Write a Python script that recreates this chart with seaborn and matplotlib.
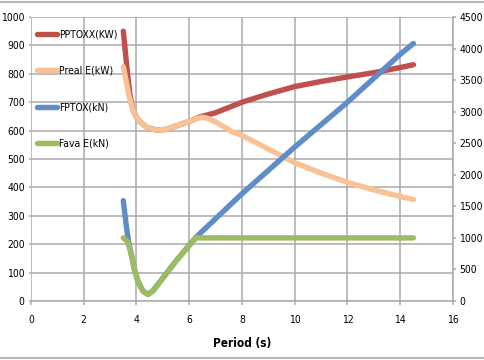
import numpy as np
import pandas as pd
import matplotlib
matplotlib.use("Agg")
import matplotlib.pyplot as plt
import matplotlib.font_manager as fm
from matplotlib.lines import Line2D
import seaborn as sns

# ---------------- data ----------------
pptox_x = [3.5, 3.57, 3.67, 3.76, 3.87, 4.06, 4.38, 4.75, 5.12, 5.62, 6.13, 6.4,
           7.0, 8.0, 9.0, 10.0, 11.0, 12.0, 13.0, 14.0, 14.5]
pptox_y = [950, 884, 790, 720, 672, 637, 612, 602, 604, 620, 637, 648,
           663, 700, 729, 755, 773, 789, 804, 822, 832]

preal_x = [3.5, 3.6, 3.72, 3.87, 4.06, 4.38, 4.75, 5.12, 5.62, 6.13, 6.3, 6.5, 6.7,
           7.0, 7.6, 8.0, 9.0, 10.0, 11.0, 12.0, 13.0, 14.0, 14.5]
preal_y = [825, 778, 720, 672, 637, 612, 602, 604, 620, 637, 643, 647, 643,
           631, 597, 583, 535, 487, 450, 418, 391, 368, 357]

fptox_x = [3.5, 3.6, 3.7, 3.8, 3.92, 4.05, 4.24, 4.43, 4.62, 4.87, 5.5, 6.25,
           8.0, 10.0, 12.0, 14.0, 14.5]
fptox_y = [1590, 1230, 940, 743, 503, 318, 159, 106, 159, 294, 636, 1008,
           1700, 2440, 3150, 3910, 4080]

fava_x = [3.5, 3.67, 3.8, 3.92, 4.05, 4.24, 4.43, 4.62, 4.87, 5.5, 6.25, 8.0, 10.0, 12.0, 14.5]
fava_y = [1000, 940, 743, 503, 318, 159, 106, 159, 294, 636, 1000, 1000, 1000, 1000, 1000]

labels = ["PPTOXX(KW)", "Preal E(kW)", "FPTOX(kN)", "Fava E(kN)"]
colors = ["#C0504D", "#F9C294", "#5F8DC8", "#9DBB61"]

xticks = [0, 2, 4, 6, 8, 10, 12, 14, 16]
left_ticks = [0, 100, 200, 300, 400, 500, 600, 700, 800, 900, 1000]
right_ticks = [0, 500, 1000, 1500, 2000, 2500, 3000, 3500, 4000, 4500]

# ---------------- style ----------------
sns.set_style("white")
names = {f.name for f in fm.fontManager.ttflist}
cond = [f for f in fm.fontManager.ttflist if f.name == "DejaVu Sans" and "Condensed" in f.fname]
if "Liberation Sans Narrow" in names:
    plt.rcParams["font.family"] = ["Liberation Sans Narrow", "DejaVu Sans"]
elif cond:
    plt.rcParams["font.family"] = ["DejaVu Sans"]
    plt.rcParams["font.stretch"] = "condensed"
else:
    plt.rcParams["font.family"] = ["Liberation Sans", "DejaVu Sans"]
plt.rcParams["text.color"] = "black"
plt.rcParams["axes.labelcolor"] = "black"
plt.rcParams["xtick.labelcolor"] = "black"
plt.rcParams["ytick.labelcolor"] = "black"

fig = plt.figure(figsize=(4.85, 3.6), dpi=100)
ax = fig.add_axes([31 / 485, 1 - 301 / 360, (453 - 31) / 485, (301 - 17) / 360])
ax2 = ax.twinx()

lw = 3.9
series_left = [(pptox_x, pptox_y, 0), (preal_x, preal_y, 1)]
series_right = [(fptox_x, fptox_y, 2), (fava_x, fava_y, 3)]

for xs, ys, i in series_left:
    df = pd.DataFrame({"x": xs, "y": ys})
    sns.lineplot(data=df, x="x", y="y", ax=ax, color=colors[i], linewidth=lw,
                 sort=False, estimator=None, solid_capstyle="round")
for xs, ys, i in series_right:
    df = pd.DataFrame({"x": xs, "y": ys})
    sns.lineplot(data=df, x="x", y="y", ax=ax2, color=colors[i], linewidth=lw,
                 sort=False, estimator=None, solid_capstyle="round")

ax.set_xlim(0, 16)
ax.set_ylim(0, 1000)
ax2.set_ylim(0, 4500)
ax.set_xticks(xticks)
ax.set_yticks(left_ticks)
ax2.set_yticks(right_ticks)
ax.set_xticklabels([str(t) for t in xticks])
ax.set_yticklabels([str(t) for t in left_ticks])
ax2.set_yticklabels([str(t) for t in right_ticks])

gridc = "#ABABAB"
ax.grid(True, color=gridc, linewidth=1.1)
ax.set_axisbelow(True)
for sp in ["top", "right", "left"]:
    ax.spines[sp].set_visible(False)
ax.spines["bottom"].set_color(gridc)
ax.spines["bottom"].set_linewidth(1.1)
for sp in ["top", "left", "bottom"]:
    ax2.spines[sp].set_visible(False)
ax2.spines["right"].set_color(gridc)
ax2.spines["right"].set_linewidth(1.1)

tsize = 7.5
ax.tick_params(axis="x", direction="out", length=3, width=1.1, color=gridc,
               labelsize=tsize, pad=7, bottom=True, labelcolor="black")
ax.tick_params(axis="y", length=1.5, width=1.1, color=gridc, labelsize=tsize, pad=3,
               left=True, labelcolor="black")
ax2.tick_params(axis="y", direction="out", length=2.5, width=1.1, color=gridc,
                labelsize=tsize, pad=2, right=True, labelcolor="black")

ax.set_ylabel("")
ax2.set_ylabel("")
ax.set_xlabel("Period (s)", fontsize=8.5, fontweight="bold", labelpad=9, color="black")

handles = [Line2D([0], [0], color=c, linewidth=lw, solid_capstyle="round") for c in colors]
leg = ax2.legend(handles, labels, loc="upper left", bbox_to_anchor=(0.0, 0.979),
                 frameon=False, fontsize=7.5, handlelength=1.9, handletextpad=0.2,
                 labelspacing=2.55, borderaxespad=0.2, labelcolor="black")

# chart border lines (top and bottom)
fig.add_artist(Line2D([0, 1], [1 - 2 / 360, 1 - 2 / 360], color="#B5B5B5", linewidth=1.5,
                      transform=fig.transFigure))
fig.add_artist(Line2D([0, 1], [2.5 / 360, 2.5 / 360], color="#B5B5B5", linewidth=1.5,
                      transform=fig.transFigure))

fig.savefig("out.png", dpi=100)
